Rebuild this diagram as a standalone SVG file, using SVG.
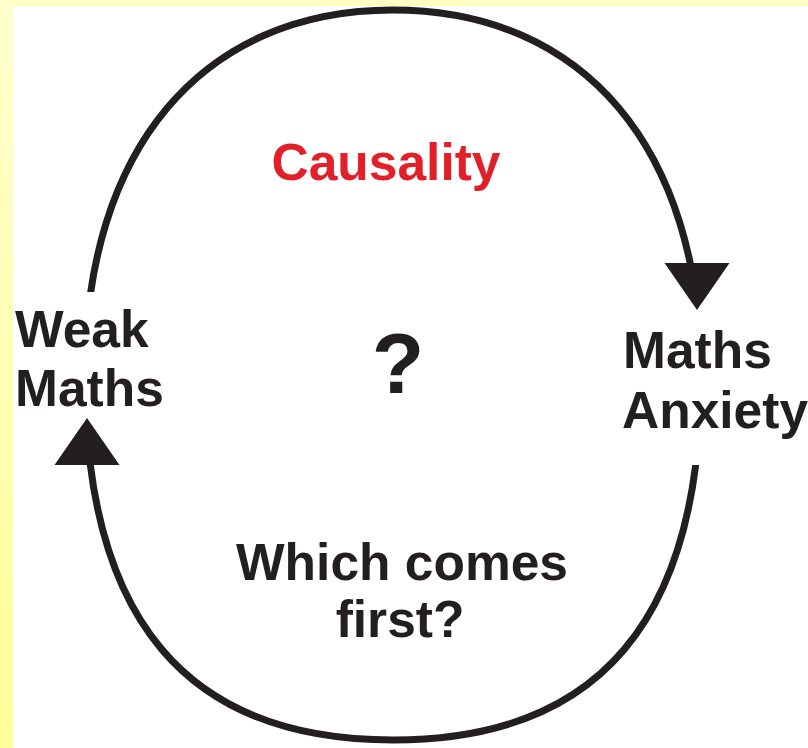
<svg xmlns="http://www.w3.org/2000/svg" width="808" height="748" viewBox="0 0 808 748">
  <style>
    .lbl { font-family: "Liberation Sans", Arial, sans-serif; font-weight: bold; font-size: 51.5px; fill: #231f20; }
    .red { fill: #e2202a; }
    .q { font-size: 86px; }
    .mid { text-anchor: middle; }
    .conn { fill: none; stroke: #231f20; stroke-width: 7; stroke-linecap: butt; }
    .head { fill: #231f20; }
  </style>
  <defs>
    <linearGradient id="side" x1="0" y1="0" x2="0" y2="1">
      <stop offset="0" stop-color="#ffffcc"/>
      <stop offset="1" stop-color="#ffff99"/>
    </linearGradient>
    <clipPath id="clipTop">
      <polygon points="0,0 808,0 808,266 393,266 393,292 0,292"/>
    </clipPath>
    <clipPath id="clipBottom">
      <polygon points="0,462 393,462 393,465 808,465 808,748 0,748"/>
    </clipPath>
    <path id="arrowDown" d="M-32.5,0 L32.5,0 L0,47 Z"/>
  </defs>

  <rect x="0" y="0" width="808" height="748" fill="#ffffff"/>
  <rect x="0" y="0" width="808" height="6" fill="#ffffc2"/>
  <rect x="0" y="0" width="13" height="748" fill="url(#side)"/>

  <g id="connectors">
    <path class="conn" clip-path="url(#clipTop)" d="M85,375 C85,149 202,10 393,10 C584,10 701,149 701,375"/>
    <use href="#arrowDown" class="head" transform="translate(697,263)"/>
    <path class="conn" clip-path="url(#clipBottom)" d="M701,375 C701,620 599,740 393,740 C187,740 85,620 85,375"/>
    <use href="#arrowDown" class="head" transform="translate(87,465) scale(1,-1)"/>
  </g>

  <g id="weak-maths">
    <text class="lbl" x="15" y="347">Weak</text>
    <text class="lbl" x="15" y="406">Maths</text>
  </g>

  <g id="maths-anxiety">
    <text class="lbl" x="623" y="368">Maths</text>
    <text class="lbl" x="622" y="428">Anxiety</text>
  </g>

  <g id="causality">
    <text class="lbl red mid" x="386" y="180">Causality</text>
  </g>

  <g id="question">
    <text class="lbl q mid" x="398" y="393">?</text>
  </g>

  <g id="which-first">
    <text class="lbl mid" x="402" y="580">Which comes</text>
    <text class="lbl mid" x="400" y="637">first?</text>
  </g>
</svg>
